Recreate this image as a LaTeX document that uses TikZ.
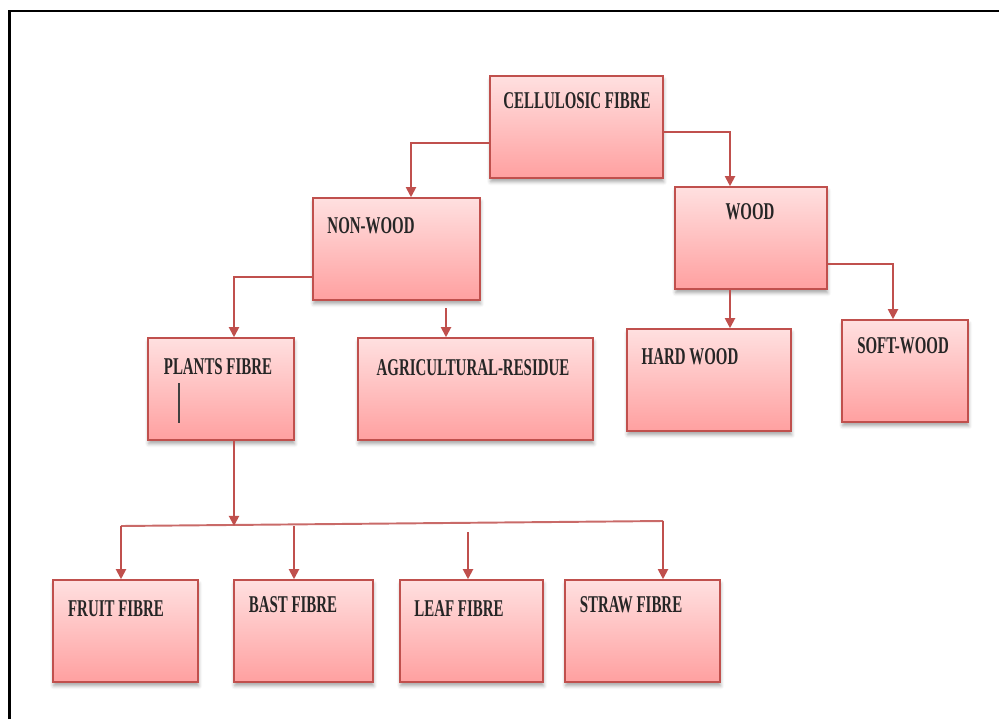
\documentclass[tikz,border=0pt]{standalone}
\usepackage{xcolor}
\usepackage{fontspec}
\usepackage{tikz}
\usetikzlibrary{arrows.meta,calc,shadows.blur}
\newfontfamily\boxfont[FakeStretch=0.62]{Liberation Serif}
\definecolor{boxedge}{HTML}{C0504D}
\definecolor{boxtop}{RGB}{255,224,224}
\definecolor{boxbottom}{RGB}{255,160,160}
\tikzset{
	fibrebox/.style={
			rectangle, draw=boxedge, line width=0.9pt, top color=boxtop, bottom color=boxbottom,
			minimum height=2.04cm, inner sep=0pt,
			blur shadow={shadow xshift=0.4pt, shadow yshift=-2.2pt, shadow blur radius=2pt, shadow opacity=35}
		},
	boxtext/.style={inner sep=0pt, text=black!85, font=\boxfont\bfseries\fontsize{13.7pt}{16pt}\selectfont},
	flow/.style={draw=boxedge, line width=1.1pt, -{Triangle[width=5.8pt,length=5.8pt]}},
	bus/.style={draw=boxedge!85, line width=1.1pt}
}

\begin{document}
\begin{tikzpicture}[x=0.02cm, y=-0.02cm]
			\useasboundingbox (0,0) rectangle (999,719);
			\draw[line width=1.7pt, black]	(9.5,719) -- (9.5,11) -- (999,11);

			\node[fibrebox, minimum width=3.46cm] (cell) at (576.5,127) {};
			\node[fibrebox, minimum width=3.34cm] (nonwood) at (396.5,249) {};
			\node[fibrebox, minimum width=3.04cm] (wood) at (751,238) {};
			\node[fibrebox, minimum width=2.92cm] (plants) at (221,389) {};
			\node[fibrebox, minimum width=4.70cm] (agri) at (475.5,389) {};
			\node[fibrebox, minimum width=3.28cm] (hard) at (709,380) {};
			\node[fibrebox, minimum width=2.52cm] (soft) at (905,371) {};
			\node[fibrebox, minimum width=2.90cm] (fruit) at (125.5,631) {};
			\node[fibrebox, minimum width=2.78cm] (bast) at (303.5,631) {};
			\node[fibrebox, minimum width=2.86cm] (leaf) at (471.5,631) {};
			\node[fibrebox, minimum width=3.10cm] (straw) at (642.5,631) {};

			\node[boxtext] (cellT) at (577,101) {CELLULOSIC FIBRE};
			\node[boxtext] (nonwoodT) at (371,226) {NON-WOOD};
			\node[boxtext] (woodT) at (750,212) {WOOD};
			\node[boxtext] (plantsT) at (218,367) {PLANTS FIBRE};
			\node[boxtext] (agriT) at (473,368) {AGRICULTURAL-RESIDUE};
			\node[boxtext] (hardT) at (690,357) {HARD WOOD};
			\node[boxtext] (softT) at (903,346) {SOFT-WOOD};
			\node[boxtext] (fruitT) at (116,609) {FRUIT FIBRE};
			\node[boxtext] (bastT) at (293,605) {BAST FIBRE};
			\node[boxtext] (leafT) at (459,609) {LEAF FIBRE};
			\node[boxtext] (strawT) at (631,605) {STRAW FIBRE};
			\draw[line width=0.7pt, black!75]	(179,383) -- (179,423);

			\coordinate (agriTop) at (446,308);
			\coordinate (busL) at (121,526);
			\coordinate (busR) at (663,521);
			\coordinate (leafTop) at (468,532);

			\draw[flow]	(cell.west |- 0,143) -| (nonwood.north -| 411,0);
			\draw[flow]	(cell.east |- 0,132) -| (wood.north -| 730,0);
			\draw[flow]	(nonwood.west |- 0,277) -| (plants.north -| 234,0);
			\draw[flow]	(agriTop) -- (agri.north -| agriTop);
			\draw[flow]	(wood.south -| 730,0) -- (hard.north -| 730,0);
			\draw[flow]	(wood.east |- 0,264) -| (soft.north -| 893,0);

			\draw[bus]	(busL) -- (busR);
			\draw[flow]	(plants.south -| 234,0) -- (234,526);
			\draw[flow]	(busL) -- (fruit.north -| busL);
			\draw[flow]	(294,526) -- (bast.north -| 294,0);
			\draw[flow]	(leafTop) -- (leaf.north -| leafTop);
			\draw[flow]	(busR) -- (straw.north -| busR);
		\end{tikzpicture}
\end{document}
